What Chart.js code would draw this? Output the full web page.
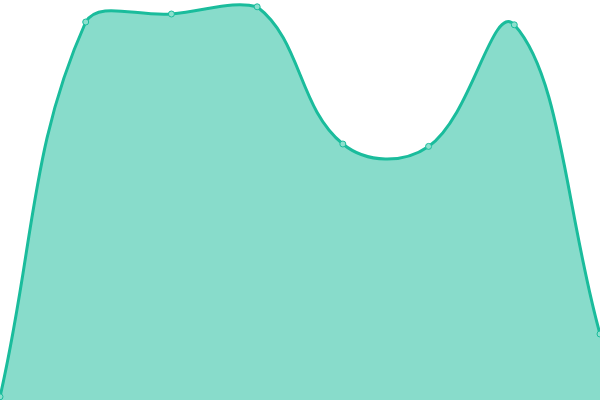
<!DOCTYPE html>
<html>
<head>
<meta charset="utf-8">
<script src="https://cdn.jsdelivr.net/npm/chart.js@4"></script>
<style>
    html, body { margin: 0; padding: 0; background: #fff; }
    #wrap { width: 600px; height: 400px; }
</style>
</head>
<body>
<div id="wrap"><canvas id="areaChart"></canvas></div>
<script>
const labels = ['1', '2', '3', '4', '5', '6', '7', '8'];
const values = [0.8, 94.5, 96.5, 98.3, 64, 63.4, 93.8, 16.5];
const yMin = 0;
const yMax = 100;

document.addEventListener('DOMContentLoaded', () => {
    const ctx = document.getElementById('areaChart').getContext('2d');
    new Chart(ctx, {
        type: 'line',
        data: {
            labels: labels,
            datasets: [{
                data: values,
                fill: true,
                tension: 0.4,
                borderColor: 'rgb(26, 188, 156)',
                backgroundColor: 'rgba(26, 188, 156, 0.52)',
                borderWidth: 3,
                pointRadius: 3,
                pointBorderWidth: 1,
                pointBackgroundColor: 'rgba(140, 224, 206, 1)',
                pointBorderColor: 'rgb(26, 188, 156)'
            }]
        },
        options: {
            responsive: true,
            maintainAspectRatio: false,
            animation: false,
            layout: { padding: 0, autoPadding: false },
            plugins: {
                legend: { display: false },
                tooltip: { enabled: false }
            },
            scales: {
                x: { display: false },
                y: { display: false, min: yMin, max: yMax }
            }
        }
    });
});
</script>
</body>
</html>
